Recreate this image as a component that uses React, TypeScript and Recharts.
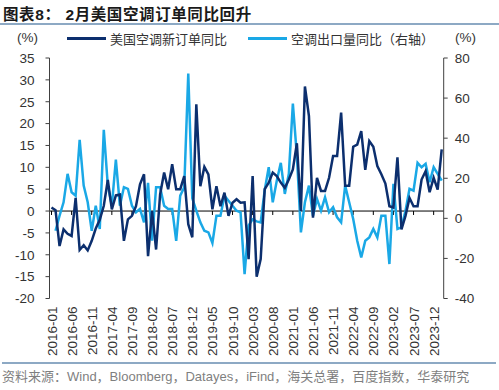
import { Line, LineChart, ReferenceLine, XAxis, YAxis } from "recharts";

// 2016-01 .. 2024-02, monthly
const START_YEAR = 2016;
const MONTH_COUNT = 98;
const months: string[] = Array.from({ length: MONTH_COUNT }, (_, i) => {
  const year = START_YEAR + Math.floor(i / 12);
  const month = (i % 12) + 1;
  return `${year}-${String(month).padStart(2, "0")}`;
});

// 美国空调新订单同比 (%), left axis
const orderYoY = [
  0.8, 0.2, -8, -4.2, -5.2, -5.7, 3.0, -8.9, -7.8, -9,
  -6.8, -4, -2, 1.2, 7.1, 0.4, 3.6, 3.8, -6.8, -1.9,
  -1.1, 1.1, 6.1, 8.4, -10.3, 0, -8.8, 3.8, 8.8, 5,
  10.7, 5, 5, 8, -3, -6, 24.4, 5.7, 10.1, 8.4,
  0.4, 5.7, 1.1, 4.2, -1.1, 1.9, 2.7, 1.9, 2, -11,
  8, -15, -11, 5, 6.5, 8.8, 8, 6.5, 5.3, 7.2,
  9.5, 15.5, 0, 28.5, 21.7, -1.5, 7.6, 4.6, 4.6, 7.6,
  12.6, 12.6, 22.5, 5.8, 5.8, 14.7, 15.2, 18.3, 9.4, 16,
  14.7, 10.3, 8.4, 6.3, 1.1, 0.8, 12.3, -4.2, -1.1, 3,
  1.1, 1.1, 7.2, 9.1, 4.3, 7.6, 4.9, 14.1,
];

// 空调出口量同比 (%), right axis
const exportYoY: (number | null)[] = [
  null, -6.2, 1.3, 8, 22.2, 13, 11.3, 39.2, 16.3, 8,
  -6.2, 6.3, -5.3, 44.2, 16.3, 6.3, 29.3, 6.3, 15.5, 14.7,
  6.3, 3, 4.7, -2, 17.7, -11.2, 15.5, 15.5, 6.3, 4.7,
  4.7, -11.2, 11.3, 15.5, 72.2, 10, 3.8, -2, -6.2, -7,
  -12.3, 1.3, 1.3, 11.3, 8.8, 6.3, 3.8, 3, -27.8, -3.5,
  -0.5, -1.5, -2, 14, 25.5, 8, 18.8, 27.7, 12.2, 22.2,
  57.2, 31.3, -7, 8, 16.3, 1.3, 9.7, 3.8, 10.5, 3,
  5.5, 0.5, -2, 16.3, 8, -0.3, -11.2, -19.5, -11.2, -9.5,
  -5.3, -9.5, 1.3, 1.3, -22.8, 17.2, -5.3, -4.5, 3.8, 14.7,
  13.8, 27.7, 25.5, 27.2, 18, 25.5, 22.2, 18.8,
];

const leftTicks = [-20, -15, -10, -5, 0, 5, 10, 15, 20, 25, 30, 35];
const rightTicks = [-40, -20, 0, 20, 40, 60, 80];
const tickMonths = months.filter((_, i) => i % 5 === 0);

const data = months.map((month, i) => ({
  month,
  orders: orderYoY[i],
  exports: exportYoY[i],
}));

const DARK = "#0c2f6e";
const LIGHT = "#1aa8e6";
const AXIS = "#404040";
const NUM_FONT = "'Liberation Sans', Arial, sans-serif";
const CJK_FONT = "'Noto Sans CJK SC', 'Noto Sans', sans-serif";
const MIXED_FONT = "'Liberation Sans', 'Noto Sans CJK SC', sans-serif";

function MonthTick({ x, y, payload }: any) {
  return (
    <text
      x={x}
      y={y}
      dy={5}
      transform={`rotate(-90, ${x}, ${y})`}
      textAnchor="end"
      fontSize={13.5}
      fontFamily={NUM_FONT}
      fill="#333"
    >
      {payload.value}
    </text>
  );
}

export default function App() {
  return (
    <div
      style={{
        position: "absolute",
        left: 0,
        top: 0,
        width: 499,
        height: 390,
        background: "#fff",
        overflow: "hidden",
      }}
    >
      <style>{"body{margin:0}"}</style>
      <div
        style={{
          position: "absolute",
          left: 3,
          top: 2,
          fontFamily: MIXED_FONT,
          fontWeight: 700,
          fontSize: 15.5,
          letterSpacing: 0.6,
          color: "#1a1a1a",
          whiteSpace: "nowrap",
        }}
      >
        图表8： 2月美国空调订单同比回升
      </div>
      <div
        style={{
          position: "absolute",
          left: 0,
          top: 23,
          width: 499,
          height: 1.5,
          background: "#8da9c4",
        }}
      />

      {/* legend row */}
      <div style={{ position: "absolute", left: 17, top: 30, fontFamily: NUM_FONT, fontSize: 13.5, color: "#333" }}>(%)</div>
      <div style={{ position: "absolute", left: 455, top: 30, fontFamily: NUM_FONT, fontSize: 13.5, color: "#333" }}>(%)</div>
      <div style={{ position: "absolute", left: 67, top: 36.5, width: 39, height: 3, background: DARK }} />
      <div style={{ position: "absolute", left: 110, top: 29, fontFamily: CJK_FONT, fontSize: 13, color: "#333", whiteSpace: "nowrap" }}>
        美国空调新订单同比
      </div>
      <div style={{ position: "absolute", left: 248, top: 36.5, width: 39, height: 3, background: LIGHT }} />
      <div style={{ position: "absolute", left: 291, top: 29, fontFamily: CJK_FONT, fontSize: 13, color: "#333", whiteSpace: "nowrap" }}>
        空调出口量同比（右轴）
      </div>

      <div style={{ position: "absolute", left: 0, top: 0 }}>
        <LineChart
          width={499}
          height={390}
          data={data}
          margin={{ top: 58, right: 0, left: 0, bottom: 31.5 }}
        >
          <XAxis
            dataKey="month"
            ticks={tickMonths}
            interval={0}
            axisLine={false}
            tickLine={false}
            tickSize={0}
            tickMargin={8}
            height={60}
            padding={{ left: 2, right: 2 }}
            tick={<MonthTick />}
          />
          <YAxis
            yAxisId="left"
            domain={[-20, 35]}
            ticks={leftTicks}
            interval={0}
            width={49.5}
            stroke={AXIS}
            tickSize={4}
            tickMargin={11}
            tick={{ fill: "#333", fontSize: 13.5, fontFamily: NUM_FONT }}
          />
          <YAxis
            yAxisId="right"
            orientation="right"
            domain={[-40, 80]}
            ticks={rightTicks}
            interval={0}
            width={55.3}
            stroke={AXIS}
            tickSize={4}
            tickMargin={7}
            tick={{ fill: "#333", fontSize: 13.5, fontFamily: NUM_FONT }}
          />
          <ReferenceLine yAxisId="left" y={0} stroke="#000" strokeWidth={1} />
          {tickMonths.map((m) => (
            <ReferenceLine
              key={m}
              yAxisId="left"
              segment={[
                { x: m, y: 0 },
                { x: m, y: -0.9 },
              ]}
              stroke="#000"
              strokeWidth={1}
            />
          ))}
          <Line
            yAxisId="right"
            type="linear"
            dataKey="exports"
            stroke={LIGHT}
            strokeWidth={2.5}
            dot={false}
            isAnimationActive={false}
          />
          <Line
            yAxisId="left"
            type="linear"
            dataKey="orders"
            stroke={DARK}
            strokeWidth={2.5}
            dot={false}
            isAnimationActive={false}
          />
        </LineChart>
      </div>

      <div
        style={{
          position: "absolute",
          left: 2,
          top: 362,
          width: 494,
          height: 2,
          background: "#8da9c4",
        }}
      />
      <div
        style={{
          position: "absolute",
          left: 2,
          top: 366,
          fontFamily: MIXED_FONT,
          fontSize: 13,
          color: "#7f7f7f",
          whiteSpace: "nowrap",
        }}
      >
        资料来源：Wind，Bloomberg，Datayes，iFind，海关总署，百度指数，华泰研究
      </div>
    </div>
  );
}
